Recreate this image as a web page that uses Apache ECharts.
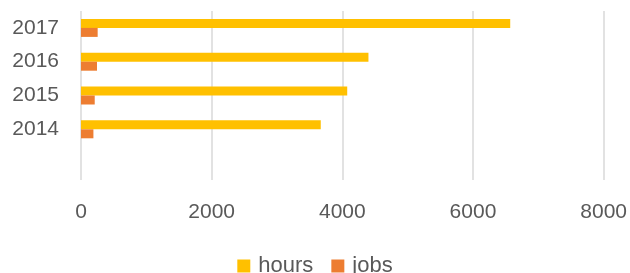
<!DOCTYPE html>
<html>
<head>
<meta charset="utf-8">
<script src="https://cdn.jsdelivr.net/npm/echarts@6/dist/echarts.min.js"></script>
<style>
  html, body { margin: 0; padding: 0; background: #fff; }
  #chartBar { width: 630px; height: 273px; }
</style>
</head>
<body>
<div id="chartBar"></div>
<script>
  // 年份 (first one is the empty row at the bottom)
  const years = ['', '2014', '2015', '2016', '2017'];
  // 小时数
  const hours = [null, 3670, 4075, 4400, 6570];
  // 工作数
  const jobs = [null, 190, 210, 245, 255];
  // x axis ticks
  const xMin = 0;
  const xMax = 8000;
  const xStep = 2000;

  const font = '"Liberation Sans", Arial, sans-serif';
  const chart = echarts.init(document.getElementById('chartBar'));
  chart.setOption({
    animation: false,
    textStyle: { fontFamily: font, color: '#595959' },
    legend: {
      data: ['hours', 'jobs'],
      left: 'center',
      top: 250,
      itemWidth: 13,
      itemHeight: 13,
      itemGap: 18,
      icon: 'rect',
      textStyle: { fontSize: 22, color: '#595959', fontFamily: font, padding: [0, 0, 0, 3] }
    },
    grid: { left: 81, right: 26, top: 11, bottom: 93, containLabel: false },
    xAxis: {
      type: 'value',
      min: xMin,
      max: xMax,
      interval: xStep,
      axisLine: { show: false },
      axisTick: { show: false },
      axisLabel: { fontSize: 21, color: '#595959', margin: 22, fontFamily: font, formatter: v => String(v) },
      splitLine: { show: true, lineStyle: { color: '#d9d9d9', width: 1.5 } }
    },
    yAxis: {
      type: 'category',
      data: years,
      axisLine: { show: false },
      axisTick: { show: false },
      axisLabel: { fontSize: 21, color: '#595959', margin: 22, fontFamily: font },
      splitLine: { show: false }
    },
    series: [
      {
        name: 'hours',
        type: 'bar',
        data: hours,
        barWidth: 9,
        barGap: '0%',
        itemStyle: { color: '#FFC000' }
      },
      {
        name: 'jobs',
        type: 'bar',
        data: jobs,
        barWidth: 9,
        barGap: '0%',
        itemStyle: { color: '#ED7D31' }
      }
    ]
  });
</script>
</body>
</html>
